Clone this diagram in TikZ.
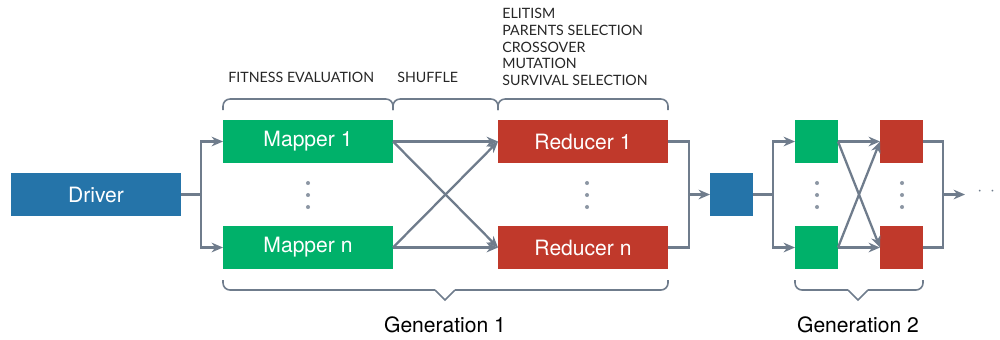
\documentclass[tikz,border=0pt]{standalone}
\usepackage{fontspec}
\setmainfont{TeX Gyre Heros}
\newfontfamily\stagefont{Lato}
\usetikzlibrary{arrows.meta}

\definecolor{mapgreen}{HTML}{00B16A}
\definecolor{redred}{HTML}{C0392B}
\definecolor{drvblue}{HTML}{2574A9}
\definecolor{wire}{HTML}{6F7C8C}

\begin{document}
\begin{tikzpicture}[
    x=0.02cm, y=-0.02cm,
    box/.style={inner sep=0pt, outer sep=0pt, text=white, font=\fontsize{12}{14}\selectfont},
    wide/.style={box, minimum width=3.4cm, minimum height=0.86cm},
    tiny/.style={box, minimum width=0.86cm, minimum height=0.86cm},
    flow/.style={draw=wire, line width=1.3pt},
    arr/.style={flow, -{Stealth[length=6.5pt, width=5.5pt]}},
    brace/.style={draw=wire, line width=0.9pt},
    stage/.style={anchor=base west, inner sep=0pt, font=\stagefont\fontsize{8.1}{9.5}\selectfont, text=black!85},
    dotty/.style={circle, fill=wire!80, inner sep=0pt, minimum size=2.3pt}
]
    \useasboundingbox (0,0) rectangle (1000,339);

    % --- Generation 1 ---
    \node[wide, fill=drvblue] (driver) at (96,194.5) {Driver};
    \node[wide, fill=mapgreen] (map1) at (308,141.5) {Mapper 1};
    \node[wide, fill=mapgreen] (mapn) at (308,247.5) {Mapper n};
    \node[wide, fill=redred] (red1) at (583,141.5) {Reducer 1};
    \node[wide, fill=redred] (redn) at (583,247.5) {Reducer n};

    % --- Generation 2 ---
    \node[tiny, fill=drvblue] (gen) at (731.5,194.5) {};
    \node[tiny, fill=mapgreen] (g2map1) at (816.5,141.5) {};
    \node[tiny, fill=mapgreen] (g2mapn) at (816.5,247.5) {};
    \node[tiny, fill=redred] (g2red1) at (901.5,141.5) {};
    \node[tiny, fill=redred] (g2redn) at (901.5,247.5) {};

    % Fork / join points
    \coordinate (fork1) at (201,194.5);
    \coordinate (join1) at (689,194.5);
    \coordinate (fork2) at (773,194.5);
    \coordinate (join2) at (943,194.5);
    \coordinate (next) at (965,194.5);

    % Connectors
    \draw[flow] (driver.east) -- (fork1);
    \draw[arr] (fork1) |- (map1.west);
    \draw[arr] (fork1) |- (mapn.west);
    \foreach \m in {map1, mapn}
        \foreach \r in {red1, redn}
            \draw[arr] (\m.east) -- (\r.west);
    \draw[flow] (red1.east) -| (join1) |- (redn.east);
    \draw[arr] (join1) -- (gen.west);
    \draw[flow] (gen.east) -- (fork2);
    \draw[arr] (fork2) |- (g2map1.west);
    \draw[arr] (fork2) |- (g2mapn.west);
    \foreach \m in {g2map1, g2mapn}
        \foreach \r in {g2red1, g2redn}
            \draw[arr] (\m.east) -- (\r.west);
    \draw[flow] (g2red1.east) -| (join2) |- (g2redn.east);
    \draw[arr] (join2) -- (next);
    \node[inner sep=0pt, anchor=west, text=wire] (more) at (977,192) {$\cdot\;\,\cdot$};

    % Vertical dots
    \foreach \x in {308, 587, 817, 902}
        \foreach \y in {183, 195, 207}
            \node[dotty] at (\x,\y) {};

    % Top braces
    \draw[brace, rounded corners=4pt] (223,110) |- (393,99) -- (393,110);
    \draw[brace, rounded corners=4pt] (393,110) |- (498,99) -- (498,110);
    \draw[brace, rounded corners=4pt] (498,110) |- (668,99) -- (668,110);

    % Stage labels
    \node[stage] (fitness) at (228,82) {FITNESS EVALUATION};
    \node[stage] (shuffle) at (397,82) {SHUFFLE};
    \node[stage, align=left, anchor=south west] (ops) at (502,86)
        {ELITISM\\PARENTS SELECTION\\CROSSOVER\\MUTATION\\SURVIVAL SELECTION};

    % Bottom braces
    \draw[brace, rounded corners=4pt] (435,290) -| (223,280);
    \draw[brace] (435,290) -- (445,300) -- (455,290);
    \draw[brace, rounded corners=4pt] (455,290) -| (668,280);
    \draw[brace, rounded corners=4pt] (848,290) -| (795,280);
    \draw[brace] (848,290) -- (858,300) -- (868,290);
    \draw[brace, rounded corners=4pt] (868,290) -| (923,280);

    \node[font=\fontsize{12}{14}\selectfont, anchor=base] (gen1) at (445,332) {Generation 1};
    \node[font=\fontsize{12}{14}\selectfont, anchor=base] (gen2) at (858,332) {Generation 2};

\end{tikzpicture}
\end{document}
